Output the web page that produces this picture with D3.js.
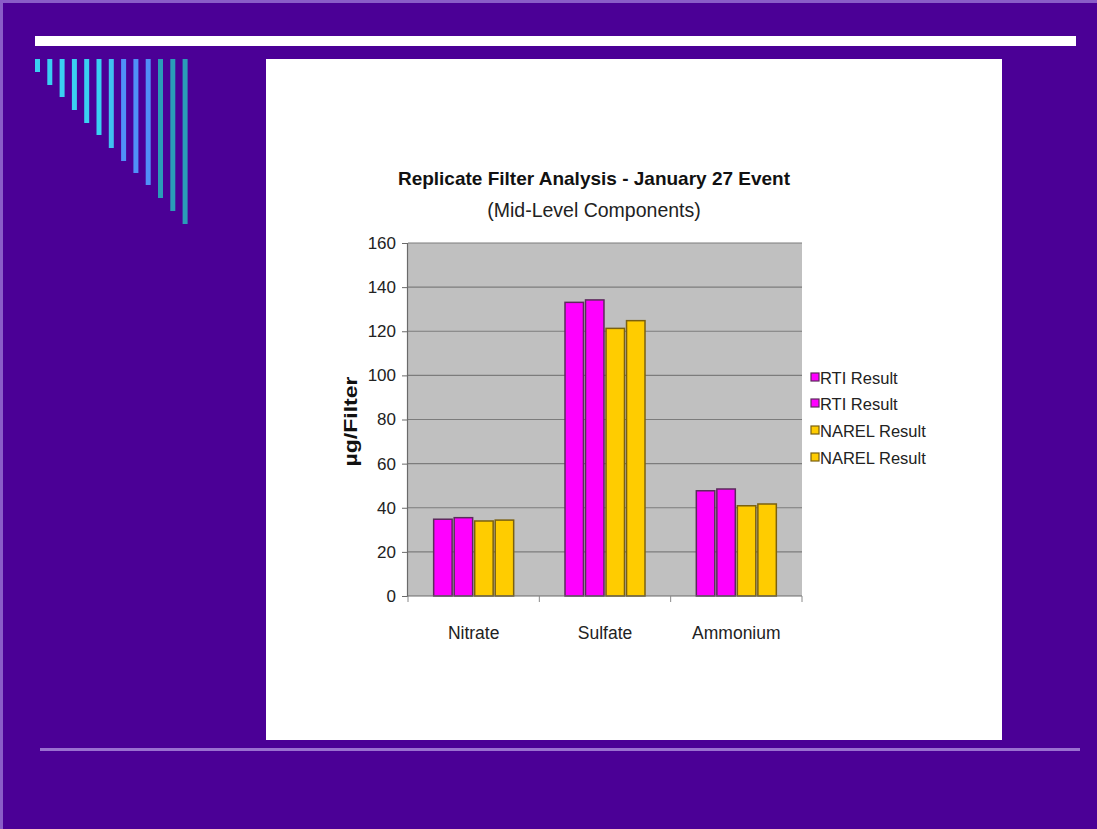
<!DOCTYPE html>
<html>
<head>
<meta charset="utf-8">
<script src="https://cdn.jsdelivr.net/npm/d3@7"></script>
<style>
  html, body { margin: 0; padding: 0; background: #4b0096; }
  svg { display: block; }
  text { font-family: "Liberation Sans", Arial, sans-serif; }
</style>
</head>
<body>
<svg id="chart" width="1097" height="829"></svg>
<script>
// Chart data
const categories = ["Nitrate", "Sulfate", "Ammonium"];
const seriesNames = ["RTI Result", "RTI Result", "NAREL Result", "NAREL Result"];
const rti1 = [34.8, 133.1, 47.7];
const rti2 = [35.5, 134.2, 48.5];
const narel1 = [34.0, 121.3, 40.9];
const narel2 = [34.4, 124.8, 41.7];
const yTicks = [0, 20, 40, 60, 80, 100, 120, 140, 160];

const seriesValues = [rti1, rti2, narel1, narel2];
const seriesFill = ["#ff00ff", "#ff00ff", "#ffcc00", "#ffcc00"];
const seriesStroke = ["#5c2a5c", "#5c2a5c", "#7a6010", "#7a6010"];

const svg = d3.select("#chart");

// Slide decoration
svg.append("rect").attr("x", 0).attr("y", 0).attr("width", 1097).attr("height", 829).attr("fill", "#4b0096");
svg.append("rect").attr("x", 0).attr("y", 0).attr("width", 3).attr("height", 829).attr("fill", "#8a5cc8");
svg.append("rect").attr("x", 0).attr("y", 0).attr("width", 1097).attr("height", 3).attr("fill", "#8a5cc8");
svg.append("rect").attr("x", 35).attr("y", 36).attr("width", 1041).attr("height", 10).attr("fill", "#ffffff");
svg.append("rect").attr("x", 40).attr("y", 748).attr("width", 1040).attr("height", 3).attr("fill", "#9a70d0");

// Descending stripes in the top-left corner
const stripeBottoms = [72, 85, 97, 110, 123, 135, 148, 161, 173, 185, 198, 211, 224];
const stripeColors = ["#3ad0f2", "#3ad0f2", "#3ad0f2", "#3ad0f2", "#3ad0f2", "#3ad0f2", "#40c0f0",
                      "#5090f8", "#5090f8", "#5090f8", "#2a9cb8", "#2a9cb8", "#2a9cb8"];
svg.append("g").selectAll("rect").data(stripeBottoms).join("rect")
  .attr("x", (d, i) => 35 + i * 12.3)
  .attr("y", 59)
  .attr("width", 5)
  .attr("height", d => d - 59)
  .attr("fill", (d, i) => stripeColors[i]);

// White chart panel
svg.append("rect").attr("x", 266).attr("y", 59).attr("width", 736).attr("height", 681).attr("fill", "#ffffff");

// Plot area
const plot = { left: 408, right: 802, top: 243, bottom: 596 };

const x0 = d3.scaleBand().domain(categories).range([plot.left, plot.right]).paddingInner(0).paddingOuter(0);
const x1 = d3.scaleBand().domain(d3.range(seriesNames.length)).range([-40, 40]).paddingInner(0.1);
const y = d3.scaleLinear().domain([0, 160]).range([plot.bottom, plot.top]);

svg.append("rect")
  .attr("x", plot.left).attr("y", plot.top)
  .attr("width", plot.right - plot.left).attr("height", plot.bottom - plot.top)
  .attr("fill", "#c0c0c0");

// Horizontal gridlines
svg.append("g").selectAll("line").data(yTicks.filter(d => d > 0)).join("line")
  .attr("x1", plot.left).attr("x2", plot.right)
  .attr("y1", d => y(d)).attr("y2", d => y(d))
  .attr("stroke", "#7c7c7c").attr("stroke-width", 1.2);

// Bars
seriesValues.forEach((vals, s) => {
  svg.append("g").selectAll("rect").data(vals).join("rect")
    .attr("x", (d, i) => x0(categories[i]) + x0.bandwidth() / 2 + x1(s))
    .attr("y", d => y(d))
    .attr("width", x1.bandwidth())
    .attr("height", d => y(0) - y(d))
    .attr("fill", seriesFill[s])
    .attr("stroke", seriesStroke[s])
    .attr("stroke-width", 1.5);
});

// Y axis
const yAxis = d3.axisLeft(y).tickValues(yTicks).tickSize(5).tickPadding(6);
const gy = svg.append("g").attr("transform", `translate(${plot.left - 1},0)`).call(yAxis);
gy.select(".domain").attr("stroke", "#6a6a6a").attr("stroke-width", 1.2);
gy.selectAll(".tick line").attr("stroke", "#6a6a6a");
gy.selectAll(".tick text").attr("font-size", 17).attr("fill", "#222").style("font-family", "Liberation Sans, Arial, sans-serif");

// X axis with ticks on category boundaries
svg.append("line")
  .attr("x1", plot.left - 1).attr("x2", plot.right)
  .attr("y1", plot.bottom).attr("y2", plot.bottom)
  .attr("stroke", "#6a6a6a").attr("stroke-width", 1.2);
const boundaries = categories.map(c => x0(c)).concat([plot.right]);
svg.append("g").selectAll("line").data(boundaries).join("line")
  .attr("x1", d => d).attr("x2", d => d)
  .attr("y1", plot.bottom).attr("y2", plot.bottom + 6)
  .attr("stroke", "#8a8a8a");
svg.append("g").selectAll("text").data(categories).join("text")
  .attr("x", d => x0(d) + x0.bandwidth() / 2)
  .attr("y", 639)
  .attr("text-anchor", "middle")
  .attr("font-size", 17.5)
  .attr("fill", "#222")
  .text(d => d);

// Titles
svg.append("text").attr("x", 594).attr("y", 185).attr("text-anchor", "middle")
  .attr("font-size", 19).attr("font-weight", "bold").attr("fill", "#111")
  .text("Replicate Filter Analysis - January 27 Event");
svg.append("text").attr("x", 594).attr("y", 217).attr("text-anchor", "middle")
  .attr("font-size", 19.5).attr("fill", "#222")
  .text("(Mid-Level Components)");

// Y axis title
svg.append("text")
  .attr("transform", `translate(357,${(plot.top + plot.bottom) / 2 + 2}) rotate(-90)`)
  .attr("text-anchor", "middle")
  .attr("font-size", 19).attr("font-weight", "bold").attr("fill", "#111")
  .attr("textLength", 90).attr("lengthAdjust", "spacingAndGlyphs")
  .text("µg/Filter");

// Legend
const legend = svg.append("g").attr("transform", "translate(811,0)");
const legendY = [378, 404, 431, 458];
seriesNames.forEach((name, i) => {
  legend.append("rect")
    .attr("x", 0).attr("y", legendY[i] - 5)
    .attr("width", 8).attr("height", 8)
    .attr("fill", seriesFill[i]).attr("stroke", seriesStroke[i]).attr("stroke-width", 1.2);
  legend.append("text")
    .attr("x", 9).attr("y", legendY[i] + 5.5)
    .attr("font-size", 16.5).attr("fill", "#222")
    .text(name);
});
</script>
</body>
</html>
